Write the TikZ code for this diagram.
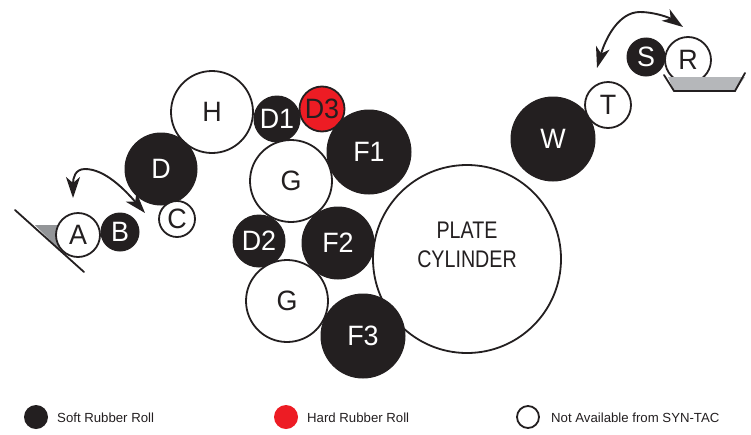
\documentclass[tikz,border=0pt]{standalone}
\usepackage{fontspec}
\setmainfont{Liberation Sans}
\newfontfamily\condfont[FakeStretch=0.82]{Liberation Sans}
\newfontfamily\rollfont[FakeStretch=0.96]{Liberation Sans}
\usetikzlibrary{arrows.meta,calc}
\definecolor{ink}{HTML}{231F20}
\definecolor{rollred}{HTML}{ED1C24}
\definecolor{pan}{HTML}{B5B7BA}
\definecolor{wedge}{HTML}{939598}
\tikzset{
  roll/.style={circle,inner sep=0pt,outer sep=0pt,font=\rollfont\fontsize{28}{28}\selectfont},
  softroll/.style={roll,fill=ink,draw=ink,line width=1pt,text=white},
  plainroll/.style={roll,fill=white,draw=ink,line width=1.8pt,text=ink},
  hardroll/.style={roll,fill=rollred,draw=ink,line width=1.8pt,text=ink},
  legendtext/.style={anchor=west,inner sep=0pt,text=ink,font=\fontsize{13.2}{13.2}\selectfont},
  swing/.style={draw=ink,line width=1.9pt,{Stealth[length=21pt,width=14pt,inset=6pt]}-{Stealth[length=21pt,width=14pt,inset=6pt]}},
  panline/.style={draw=ink,line width=1.8pt,line cap=round,line join=miter}
}
\begin{document}
\begin{tikzpicture}[x=1pt,y=-1pt]
\useasboundingbox (0,0) rectangle (751,434);
% plate
\node[plainroll,minimum size=188pt] (plate) at (467,259) {};
\node[align=center,inner sep=0pt,text=ink,font=\condfont\fontsize{24}{29}\selectfont] (platetext) at (467,245) {PLATE\\CYLINDER};
% rolls
\node[plainroll,minimum size=82pt] (h) at (212,112) {H};
\node[softroll,minimum size=72pt] (d) at (161,169) {D};
\node[plainroll,minimum size=36pt] (c) at (177,219) {C};
\node[softroll,minimum size=46pt] (d1) at (277,119) {D1};
\node[hardroll,minimum size=45pt] (d3) at (322,109) {D3};
\node[softroll,minimum size=84pt] (f1) at (369,152) {F1};
\node[plainroll,minimum size=82pt] (g1) at (291,181) {G};
\node[softroll,minimum size=52pt] (d2) at (259,241) {D2};
\node[softroll,minimum size=72pt] (f2) at (338,243) {F2};
\node[plainroll,minimum size=82pt] (g2) at (287,301) {G};
\node[softroll,minimum size=84pt] (f3) at (363,336) {F3};
\node[softroll,minimum size=84pt] (w) at (553,139) {W};
\node[plainroll,minimum size=46pt] (t) at (608,105) {T};
% wedge at A
\fill[wedge] (35,225) -- (60,225) -- (60,250) -- cycle;
\draw[panline] (15,210) -- (84,272);
\node[plainroll,minimum size=44pt] (a) at (78,235) {A};
\node[softroll,minimum size=38pt] (b) at (120,232) {B};
% pan at R
\node[softroll,minimum size=38pt] (s) at (646,57) {S};
\node[plainroll,minimum size=46pt] (r) at (688,60) {R};
\fill[pan] (668,77) -- (745,77) -- (735,91) -- (674,91) -- cycle;
\draw[panline] (664,75) -- (674,91) -- (735,91) -- (745,73);
% swing arrows
\coordinate (swingAa) at (73,198);
\coordinate (swingAb) at (145,213);
\coordinate (swingRa) at (597,68);
\coordinate (swingRb) at (683,27);
\path[swing] (swingAa) .. controls (73,178) and (75,169) .. (85,169) .. controls (105,169) and (125,190) .. (swingAb);
\path[swing] (swingRa) .. controls (605,40) and (618,12) .. (640,12) .. controls (655,12) and (670,18) .. (swingRb);
% legend
\node[circle,fill=ink,minimum size=24pt,inner sep=0pt] (k1) at (36,417) {};
\node[circle,fill=rollred,minimum size=24pt,inner sep=0pt] (k2) at (286,417) {};
\node[circle,draw=ink,fill=white,line width=1.8pt,minimum size=22pt,inner sep=0pt] (k3) at (528,417) {};
\node[legendtext] (t1) at (57,418) {Soft Rubber Roll};
\node[legendtext] (t2) at (307,418) {Hard Rubber Roll};
\node[legendtext] (t3) at (551,418) {Not Available from SYN-TAC};
\end{tikzpicture}
\end{document}
